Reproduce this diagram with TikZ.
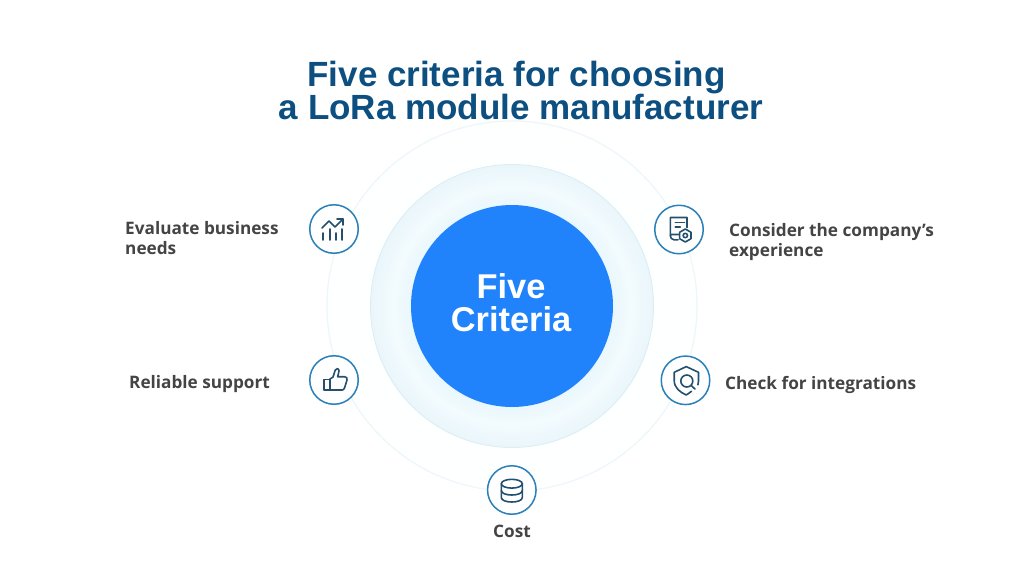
\documentclass[tikz,border=0pt]{standalone}
\usepackage{fontspec}
\setmainfont{Open Sans}
\newfontfamily\titlefont{Liberation Sans}
\definecolor{titleblue}{HTML}{0C4F80}
\definecolor{corecolor}{HTML}{2083FB}
\definecolor{ringline}{HTML}{2A80B9}
\definecolor{iconline}{HTML}{24506F}
\definecolor{labelgrey}{HTML}{444444}
\definecolor{haloin}{HTML}{E9F7FC}
\definecolor{halomid}{HTML}{F3FBFE}
\definecolor{haloout}{HTML}{EAF6FB}
\definecolor{haloedge}{HTML}{DAEDF6}
\definecolor{orbit}{HTML}{EDF6FA}
\definecolor{orbitfill}{HTML}{FEFFFF}
\pgfdeclareradialshading{halo}{\pgfpointorigin}{color(0bp)=(haloin);color(17.8bp)=(haloin);color(21bp)=(halomid);color(24.9bp)=(haloout);color(25bp)=(haloout);color(50bp)=(haloout)}
\tikzset{
  badge/.style={circle,draw=ringline,line width=1.5pt,fill=white,minimum size=48.5pt,inner sep=0pt},
  glyph/.style={draw=iconline,line width=1.6pt,line cap=round,line join=round,fill=none},
  crit/.style={font=\fontsize{17.2}{20}\selectfont\bfseries,text=labelgrey,align=left,inner sep=0pt},
  headline/.style={font=\titlefont\fontsize{35}{36}\selectfont\bfseries,text=titleblue,inner sep=0pt,anchor=base},
  corelabel/.style={font=\titlefont\fontsize{34.4}{36}\selectfont\bfseries,text=white,inner sep=0pt,anchor=base}
}
\begin{document}
\begin{tikzpicture}[x=1pt,y=-1pt]
\useasboundingbox (0,0) rectangle (1024,573);
\fill[white] (0,0) rectangle (1024,573);
\node[headline] (t1) at (516.5,86.5) {Five criteria for choosing};
\node[headline] (t2) at (521,119.5) {a LoRa module manufacturer};
\draw[orbit,fill=orbitfill,line width=1.2pt] (512,306) circle[radius=185];
\shade[shading=halo] (512,306) circle[radius=141.5];
\draw[haloedge,line width=0.8pt] (512,306) circle[radius=141.5];
\node[circle,fill=corecolor,minimum size=202pt,inner sep=0pt] (core) at (512,306) {};
\node[corelabel] (cl1) at (511,298) {Five};
\node[corelabel] (cl2) at (511,331.5) {Criteria};
\node[badge] (b1) at (334,229) {};
\node[badge] (b2) at (679,229.5) {};
\node[badge] (b3) at (334,380) {};
\node[badge] (b4) at (685.5,380.3) {};
\node[badge] (b5) at (511.8,490) {};
% chart icon
\begin{scope}[shift={(b1.center)}]
\draw[glyph] (-12,-1) -- (-5,-8) -- (1,-2) -- (9,-10);
\draw[glyph] (3,-10) -- (9,-10) -- (9,-4);
\draw[glyph] (-11,4) -- (-11,11);
\draw[glyph] (-4,0) -- (-4,11);
\draw[glyph] (2,4) -- (2,11);
\draw[glyph] (8,0) -- (8,11);
\end{scope}
% certificate icon
\begin{scope}[shift={(b2.center)}]
\draw[glyph] (-1,10.3) -- (-5,10.3) .. controls (-7.5,10.3) and (-8.7,8) .. (-8.7,6) -- (-8.7,-12) -- (8,-12) -- (8,-2);
\draw[glyph] (-8.7,6) .. controls (-8.7,4.5) and (-7.5,5) .. (-6,5) -- (0,5);
\draw[glyph] (-3.7,-7) -- (5.5,-7);
\draw[glyph] (-3.7,-2.3) -- (1.3,-2.3);
\draw[glyph] (6.3,-0.5) -- (12,2.8) -- (12,9.2) -- (6.3,12.5) -- (0.6,9.2) -- (0.6,2.8) -- cycle;
\draw[glyph] (6.3,6) circle[radius=2.2];
\end{scope}
% thumb icon
\begin{scope}[shift={(b3.center)}]
\draw[glyph] (-10.3,-0.7) -- (-4.3,-0.7) -- (-4.3,10) -- (-10.3,10) -- cycle;
\draw[glyph] (-4.3,-0.7) -- (-1,-3) -- (1.3,-10) .. controls (2,-12) and (5,-12) .. (5,-9) -- (3.7,-3.3) -- (10.5,-3.3) .. controls (12.5,-3.3) and (13.5,-2) .. (13,0) -- (10.5,8) .. controls (10,9.5) and (9,10) .. (8,10) -- (-4.3,10);
\end{scope}
% shield icon
\begin{scope}[shift={(b4.center)}]
\draw[glyph] (6,11) .. controls (4,12.5) and (2,14) .. (0.7,14.7) .. controls (-5,12) and (-11.3,8) .. (-11.3,0) -- (-11.3,-8) -- (0.7,-13.7) -- (13,-8) -- (13,1) .. controls (13,2.5) and (12.8,3.5) .. (12.4,4.5);
\draw[glyph] (1.3,0.7) circle[radius=6];
\draw[glyph] (5.6,5) -- (9.5,8.8);
\end{scope}
% database icon
\begin{scope}[shift={(b5.center)}]
\draw[glyph] (0,-6.3) ellipse[x radius=10.5,y radius=4.4];
\draw[glyph] (-10.5,-6.3) -- (-10.5,7.5) .. controls (-10.5,13.5) and (10.5,13.5) .. (10.5,7.5) -- (10.5,-6.3);
\draw[glyph] (-10.5,0.5) .. controls (-10.5,6.5) and (10.5,6.5) .. (10.5,0.5);
\end{scope}
\node[crit,anchor=west] (l1) at (125,238) {Evaluate business\\needs};
\node[crit,anchor=west] (l2) at (729,242.5) {Consider the company’s\\experience};
\node[crit,anchor=west] (l3) at (129,384.5) {Reliable support};
\node[crit,anchor=west] (l4) at (725,384.5) {Check for integrations};
\node[crit] (l5) at (512,531) {Cost};
\end{tikzpicture}
\end{document}
